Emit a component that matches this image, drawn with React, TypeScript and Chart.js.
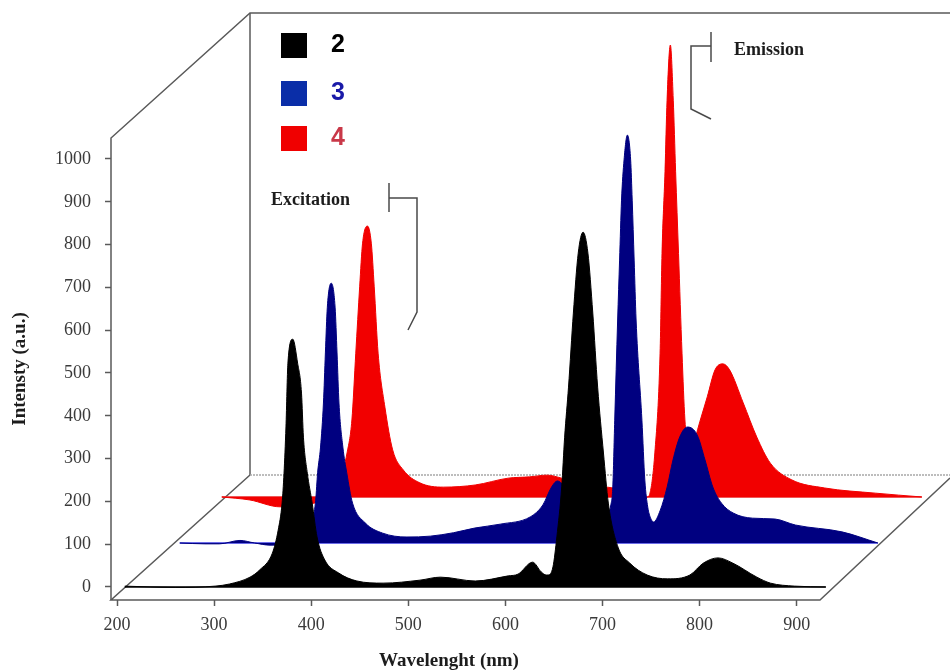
import React, { useEffect, useRef } from "react";
import { Chart, registerables } from "chart.js";

Chart.register(...registerables);

const SERIES_NAMES = ["2", "3", "4"];
const X_TICKS = [200, 300, 400, 500, 600, 700, 800, 900];
const Y_TICKS = [0, 100, 200, 300, 400, 500, 600, 700, 800, 900, 1000];

const wave2 = [208,260,301,316,337,347,360,366,370,372,374,376,381,386,390,392,396,401,406,414,428,447,474,512,533,569,603,613,628,637,642,644,649,653,658,661,665,670,675,680,685,690,695,701,706,716,728,746,767,790,804,819,834,859,873,898,930];
const int2 = [2,-1,2,7,23,40,79,133,196,266,374,523,579,523,453,350,266,196,117,63,33,14,9,16,23,14,26,30,58,35,28,28,47,117,234,350,467,640,780,829,780,640,467,313,196,93,56,28,19,28,56,68,56,23,9,2,0];

const wave3 = [208,234,249,270,285,301,332,338,342,345,348,350,353,356,358,360,364,368,370,372,376,380,386,399,417,442,466,490,512,538,569,582,591,597,610,631,646,652,654,656,659,661,663,665.6,669,672.4,674,676,678,684,687,690,693,696,703,710,716,723,731,741,749,757,766,778,798,821,842,890,927];
const int3 = [0,-2,-2,6,0,-5,-3,5,30,54,100,164,224,327,444,551,607,551,444,327,224,164,93,47,23,14,16,24,35,44,61,89,131,145,112,65,54,89,131,287,521,661,801,895,953,895,801,661,521,287,147,84,58,49,77,131,194,248,271,252,194,131,93,70,58,56,42,26,0];

const wave4 = [208,237,268,289,304,314,322,330,337,342,346,350,353,358,362,365,369,376,384,395,412,436,469,503,525,543,558,582,605,623,639,646,649,654,659.4,661.4,664.5,666.6,670,673,675.4,678.4,682,685,690,698,708,716,724,731,745,759,773,795,829,881,929];
const int4 = [0,-7,-23,-19,-14,-7,5,40,103,180,336,491,593,633,593,491,336,210,110,63,33,23,28,44,47,51,44,28,23,16,5,0,9,103,336,569,761,927,1056,927,761,569,336,180,86,157,234,297,311,297,220,140,79,40,21,9,0];

const COLORS = ["#000000", "#000080", "#f20000"];
const BASE_LINES = ["#000000", "#3a3ae0", "#e82020"];
const LEGEND_SWATCH = ["#000000", "#0a2ea8", "#f00000"];
const LEGEND_TEXT = ["#000000", "#1a1aa8", "#c93848"];

const X_MIN = 193.8;
const X_MAX = 1057.9;
const Y_MIN = -30.4;
const Y_MAX = 1341.1;
const DEPTH_X = [0, 56.6, 99.9];
const DEPTH_Y = [0, 102.8, 210.3];

const line = (ctx: CanvasRenderingContext2D, pts: number[][]) => {
  ctx.beginPath();
  pts.forEach(([x, y], i) => (i ? ctx.lineTo(x, y) : ctx.moveTo(x, y)));
  ctx.stroke();
};

const framePlugin = {
  id: "frame",
  beforeDatasetsDraw(chart: any) {
    const ctx: CanvasRenderingContext2D = chart.ctx;
    ctx.save();
    ctx.strokeStyle = "#5a5a5a";
    ctx.lineWidth = 1.5;
    line(ctx, [[111, 600], [111, 138], [250, 13], [950, 13]]);
    line(ctx, [[250, 13], [250, 475]]);
    line(ctx, [[250, 475], [111, 600], [820, 600], [950, 478]]);
    ctx.strokeStyle = "#a8a8a8";
    ctx.lineWidth = 1.5;
    ctx.setLineDash([2, 1]);
    line(ctx, [[250, 475], [950, 475]]);
    ctx.restore();
  },
  afterDraw(chart: any) {
    const ctx: CanvasRenderingContext2D = chart.ctx;
    ctx.save();
    const swatchY = [33, 81, 126];
    const textY = [45, 93, 138];
    SERIES_NAMES.forEach((name, i) => {
      ctx.fillStyle = LEGEND_SWATCH[i];
      ctx.fillRect(281, swatchY[i], 26, 25);
      ctx.fillStyle = LEGEND_TEXT[i];
      ctx.font = 'bold 25px "Liberation Sans"';
      ctx.textAlign = "center";
      ctx.textBaseline = "middle";
      ctx.fillText(name, 338, textY[i]);
    });
    ctx.fillStyle = "#1c1c1c";
    ctx.font = 'bold 18px "Liberation Serif"';
    ctx.textAlign = "left";
    ctx.fillText("Excitation", 271, 200);
    ctx.fillText("Emission", 734, 50);
    ctx.strokeStyle = "#4a4a4a";
    ctx.lineWidth = 1.5;
    line(ctx, [[389, 183], [389, 212]]);
    line(ctx, [[389, 198], [417, 198], [417, 312], [408, 330]]);
    line(ctx, [[711, 32], [711, 62]]);
    line(ctx, [[711, 46], [691, 46], [691, 109], [711, 119]]);
    ctx.fillStyle = "#1c1c1c";
    ctx.font = 'bold 19px "Liberation Serif"';
    ctx.textAlign = "center";
    ctx.fillText("Wavelenght (nm)", 449, 661);
    ctx.translate(20, 369);
    ctx.rotate(-Math.PI / 2);
    ctx.fillText("Intensty (a.u.)", 0, 0);
    ctx.restore();
  },
};

export default function App() {
  const ref = useRef<HTMLCanvasElement>(null);
  useEffect(() => {
    const waves = [wave2, wave3, wave4];
    const ints = [int2, int3, int4];
    const xIds = ["x", "x3", "x4"];
    const yIds = ["y", "y3", "y4"];
    const datasets: any[] = [];
    waves.forEach((w, i) => {
      datasets.push({
        label: SERIES_NAMES[i],
        data: w.map((x, k) => ({ x, y: ints[i][k] })),
        xAxisID: xIds[i],
        yAxisID: yIds[i],
        borderColor: COLORS[i],
        backgroundColor: COLORS[i],
        borderWidth: 1,
        pointRadius: 0,
        cubicInterpolationMode: "monotone",
        fill: { value: 0 },
        clip: false,
        order: i * 2,
      });
      datasets.push({
        label: SERIES_NAMES[i] + " baseline",
        data: [
          { x: w[0], y: 0 },
          { x: w[w.length - 1], y: 0 },
        ],
        xAxisID: xIds[i],
        yAxisID: yIds[i],
        borderColor: BASE_LINES[i],
        borderWidth: 1.5,
        pointRadius: 0,
        fill: false,
        clip: false,
        order: i * 2 + 1,
      });
    });
    const hidden = (k: number) => ({
      x: { type: "linear", display: false, min: X_MIN - DEPTH_X[k], max: X_MAX - DEPTH_X[k] },
      y: { type: "linear", display: false, min: Y_MIN - DEPTH_Y[k], max: Y_MAX - DEPTH_Y[k] },
    });
    const tickFont = { family: '"Liberation Serif"', size: 18 };
    const chart = new Chart(ref.current!, {
      type: "line",
      data: { datasets },
      plugins: [framePlugin],
      options: {
        animation: false,
        responsive: false,
        layout: { padding: { top: 13, left: 0, right: 0, bottom: 0 } },
        plugins: { legend: { display: false }, tooltip: { enabled: false }, title: { display: false } },
        scales: {
          x: {
            type: "linear",
            min: X_MIN,
            max: X_MAX,
            afterBuildTicks: (s: any) => {
              s.ticks = X_TICKS.map((value) => ({ value }));
            },
            afterFit: (s: any) => {
              s.height = 70;
              s.paddingLeft = 0;
              s.paddingRight = 0;
            },
            border: { display: false },
            grid: { drawOnChartArea: false, tickLength: 6, tickColor: "#5a5a5a", tickWidth: 1.5 },
            ticks: { color: "#3a3a3a", font: tickFont, padding: 8, autoSkip: false, maxRotation: 0, callback: (v: any) => String(v) },
          },
          y: {
            type: "linear",
            min: Y_MIN,
            max: Y_MAX,
            afterBuildTicks: (s: any) => {
              s.ticks = Y_TICKS.map((value) => ({ value }));
            },
            afterFit: (s: any) => {
              s.width = 111;
              s.paddingTop = 0;
              s.paddingBottom = 0;
            },
            border: { display: false },
            grid: { drawOnChartArea: false, tickLength: 6, tickColor: "#5a5a5a", tickWidth: 1.5 },
            ticks: { color: "#3a3a3a", font: tickFont, padding: 14, autoSkip: false, callback: (v: any) => String(v) },
          },
          x3: hidden(1).x,
          y3: hidden(1).y,
          x4: hidden(2).x,
          y4: hidden(2).y,
        },
      },
    } as any);
    return () => chart.destroy();
  }, []);
  return (
    <div style={{ position: "absolute", left: 0, top: 0, width: 950, height: 670, background: "#fff" }}>
      <canvas ref={ref} width={950} height={670} style={{ display: "block" }} />
    </div>
  );
}
